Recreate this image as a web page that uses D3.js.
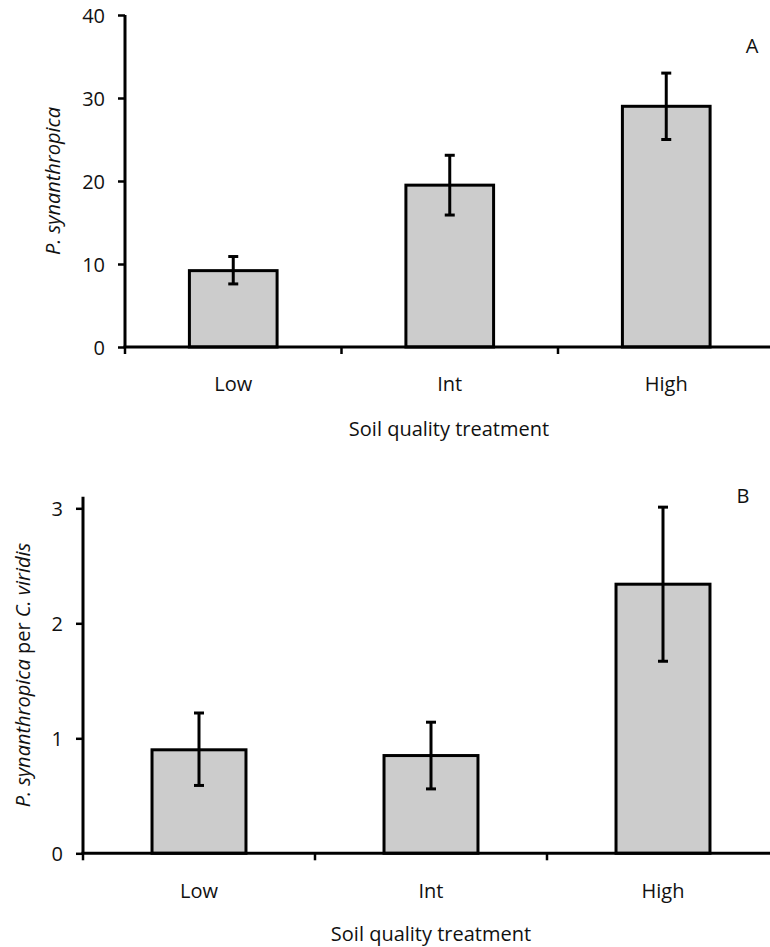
<!DOCTYPE html>
<html><head><meta charset="utf-8">
<script src="https://cdn.jsdelivr.net/npm/d3@7"></script>
<style>body{margin:0;background:#fff}svg{display:block}text{font-family:"Open Sans",sans-serif;fill:#111}</style>
</head><body>
<svg id="c" width="770" height="947"></svg>
<script>
const categories = ["Low", "Int", "High"];
const valuesA = [9.2, 19.5, 29.0];
const errUpA = [10.9, 23.1, 33.0];
const errLoA = [7.6, 15.9, 25.0];
const ticksA = [0, 10, 20, 30, 40];
const valuesB = [0.90, 0.85, 2.34];
const errUpB = [1.22, 1.14, 3.01];
const errLoB = [0.59, 0.56, 1.67];
const ticksB = [0, 1, 2, 3];

const svg = d3.select("#c");
const FS = "20px";

function panel(cfg){
  const g = svg.append("g");
  const x = d3.scaleBand().domain(cfg.cats).range([cfg.x0, cfg.x0 + 3*cfg.band]).paddingInner(0).paddingOuter(0);
  const y = d3.scaleLinear().domain(cfg.ydom).range([cfg.y0, cfg.yTop]);
  const bw = cfg.band * 0.405;
  g.selectAll("rect.bar").data(cfg.vals).join("rect")
    .attr("x", (d,i)=> x(cfg.cats[i]) + cfg.band/2 - bw/2)
    .attr("y", d=> y(d))
    .attr("width", bw)
    .attr("height", d=> y(0)-y(d))
    .attr("fill", "#cccccc").attr("stroke", "#000").attr("stroke-width", 3);
  const eb = g.selectAll("g.eb").data(cfg.vals).join("g");
  eb.append("line")
    .attr("x1",(d,i)=> x(cfg.cats[i])+cfg.band/2).attr("x2",(d,i)=> x(cfg.cats[i])+cfg.band/2)
    .attr("y1",(d,i)=> y(cfg.up[i])).attr("y2",(d,i)=> y(cfg.lo[i]))
    .attr("stroke","#000").attr("stroke-width",3);
  [cfg.up, cfg.lo].forEach(arr=>{
    eb.append("line")
      .attr("x1",(d,i)=> x(cfg.cats[i])+cfg.band/2-5).attr("x2",(d,i)=> x(cfg.cats[i])+cfg.band/2+5)
      .attr("y1",(d,i)=> y(arr[i])).attr("y2",(d,i)=> y(arr[i]))
      .attr("stroke","#000").attr("stroke-width",3);
  });
  const ya = g.append("g").attr("transform",`translate(${cfg.x0},0)`)
    .call(d3.axisLeft(y).tickValues(cfg.ticks).tickSize(7).tickPadding(13).tickFormat(d3.format("d")));
  ya.select(".domain").attr("d", `M0,${y(0)}V${cfg.yTop}`).attr("stroke-width",3);
  ya.selectAll(".tick line").attr("stroke-width",2.5);
  ya.selectAll("text").style("font-family","'Open Sans',sans-serif").style("font-size",FS).style("fill","#111").attr("dy","0.36em");
  const xa = g.append("g").attr("transform",`translate(0,${y(0)})`);
  xa.append("line").attr("x1",cfg.x0-1.5).attr("x2",cfg.x0+3*cfg.band).attr("y1",0).attr("y2",0).attr("stroke","#000").attr("stroke-width",3);
  const bounds = [0,1,2].map(i=> x(cfg.cats[i]));
  xa.selectAll("line.t").data(bounds).join("line").attr("class","t")
    .attr("x1",d=>d).attr("x2",d=>d).attr("y1",0).attr("y2",7).attr("stroke","#000").attr("stroke-width",2.5);
  xa.selectAll("text.c").data(cfg.cats).join("text").attr("class","c")
    .attr("x", d=> x(d)+cfg.band/2).attr("y", cfg.catY - y(0)).attr("text-anchor","middle")
    .style("font-size",FS).text(d=>d);
  g.append("text").attr("x", cfg.titleX).attr("y", cfg.titleY).attr("text-anchor","middle")
    .style("font-size",FS).text("Soil quality treatment");
  const yt = g.append("text").attr("transform",`translate(${cfg.ylabX},${(y(0)+cfg.yTop)/2}) rotate(-90)`)
    .attr("text-anchor","middle").style("font-size",FS);
  cfg.ylab.forEach(p=> yt.append("tspan").style("font-style", p[1]?"italic":"normal").text(p[0]));
  g.append("text").attr("x",cfg.letterX).attr("y",cfg.letterY).attr("text-anchor","middle").style("font-size",FS).text(cfg.letter);
}

panel({cats:categories, vals:valuesA, up:errUpA, lo:errLoA, ticks:ticksA, ydom:[0,40],
  x0:125, band:216.5, y0:347, yTop:15, catY:391, titleX:449, titleY:436,
  ylabX:60, ylab:[["P. synanthropica",true]], letter:"A", letterX:752, letterY:53});

panel({cats:categories, vals:valuesB, up:errUpB, lo:errLoB, ticks:ticksB, ydom:[0,3.1],
  x0:83, band:232, y0:853.3, yTop:496.8, catY:898, titleX:431, titleY:941,
  ylabX:30, ylab:[["P. synanthropica",true],[" per ",false],["C. viridis",true]], letter:"B", letterX:743, letterY:503});
</script>
</body></html>
